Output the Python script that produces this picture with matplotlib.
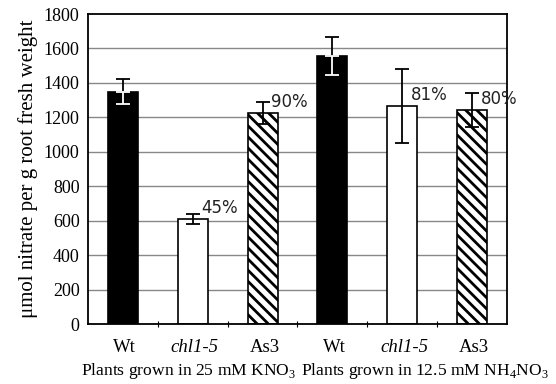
import matplotlib
matplotlib.use("Agg")
import matplotlib.pyplot as plt
import numpy as np

categories = ["Wt", "chl1-5", "As3", "Wt", "chl1-5", "As3"]
values = [1350, 610, 1225, 1555, 1265, 1242]
errors = [75, 30, 65, 110, 215, 100]
styles = ["black", "white", "hatch", "black", "white", "hatch"]
pct_labels = ["", "45%", "90%", "", "81%", "80%"]
group_labels = ["Plants grown in 25 mM KNO$_3$", "Plants grown in 12.5 mM NH$_4$NO$_3$"]
yticks = list(range(0, 1801, 200))

plt.rcParams["hatch.linewidth"] = 2.0
plt.rcParams["mathtext.fontset"] = "custom"
plt.rcParams["mathtext.rm"] = "Liberation Serif"
fig = plt.figure(figsize=(5.56, 3.84), dpi=100)
ax = fig.add_axes([0.158, 0.156, 0.754, 0.8075])
x = np.arange(len(values))

for yt in yticks[1:-1]:
    ax.axhline(yt, color="#888888", lw=1.0, zorder=0)

for xi, v, s in zip(x, values, styles):
    if s == "black":
        ax.bar(xi, v, width=0.43, color="black", edgecolor="black", lw=1.2, zorder=2)
    elif s == "white":
        ax.bar(xi, v, width=0.43, color="white", edgecolor="black", lw=1.2, zorder=2)
    else:
        ax.bar(xi, v, width=0.43, color="white", edgecolor="black", hatch="\\\\\\", lw=1.2, zorder=2)

for xi, v, e, s in zip(x, values, errors, styles):
    ax.errorbar(xi, v, yerr=e, fmt="none", ecolor="black", elinewidth=1.3, capsize=5, capthick=1.3, zorder=3)
for xi, v, e, s in zip(x, values, errors, styles):
    if s == "black":
        ax.errorbar(xi, v, yerr=[[e], [0]], fmt="none", ecolor="white", elinewidth=1.3, capsize=5, capthick=1.3, zorder=4)

for xi, v, e, p in zip(x, values, errors, pct_labels):
    if p:
        ax.text(xi + 0.12, v + 10, p, fontsize=12, family="DejaVu Sans", ha="left", va="bottom", zorder=5, color="#222222")

ax.set_xlim(-0.5, 5.5)
ax.set_ylim(0, 1800)
ax.set_yticks(yticks)
ax.set_yticklabels([str(t) for t in yticks], family="Liberation Serif", fontsize=13)
ax.set_xticks(np.arange(0.5, 5, 1.0))
ax.set_xticklabels([])
ax.tick_params(axis="x", direction="inout", length=5, width=0.8)
ax.tick_params(axis="y", direction="in", length=0, pad=6)
for sp in ax.spines.values():
    sp.set_linewidth(1.3)

for xi, c in zip(x, categories):
    style = "italic" if c.startswith("chl") else "normal"
    ax.text(xi + 0.03, -135, c, ha="center", va="center", family="Liberation Serif", fontsize=13.5, style=style, clip_on=False)

ax.text(0.94, -272, group_labels[0], ha="center", va="center", family="Liberation Serif", fontsize=12.6, clip_on=False)
ax.text(4.33, -272, group_labels[1], ha="center", va="center", family="Liberation Serif", fontsize=12.6, clip_on=False)

ax.set_ylabel("\u03bcmol nitrate per g root fresh weight", family="Liberation Serif", fontsize=15, labelpad=4)

fig.savefig("out.png", dpi=100)
